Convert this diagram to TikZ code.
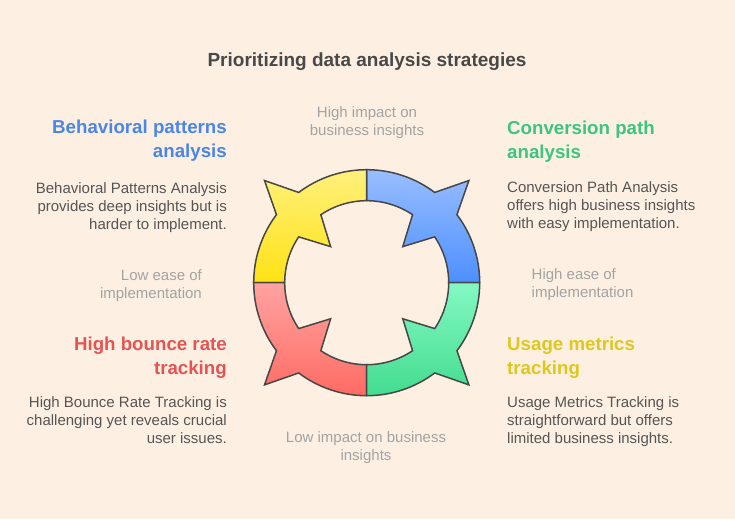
\documentclass[tikz,border=0pt]{standalone}
\usepackage{fontspec}
\setmainfont{Liberation Sans}

\definecolor{bgpaper}{HTML}{FDF0E3}
\definecolor{titlegray}{HTML}{484848}
\definecolor{descgray}{HTML}{555555}
\definecolor{axisgray}{HTML}{A3A3A3}
\definecolor{ringline}{HTML}{474747}
\definecolor{headblue}{HTML}{4A86E8}
\definecolor{headgreen}{HTML}{3CC480}
\definecolor{headred}{HTML}{E65353}
\definecolor{headyellow}{HTML}{DFC71C}
\definecolor{bluetop}{HTML}{98BEFF}
\definecolor{bluebot}{HTML}{4D8FFF}
\definecolor{yeltop}{HTML}{FFF07C}
\definecolor{yelbot}{HTML}{FFE214}
\definecolor{redtop}{HTML}{FFA3A0}
\definecolor{redbot}{HTML}{FF6B64}
\definecolor{grntop}{HTML}{84F8C4}
\definecolor{grnbot}{HTML}{42DC8E}

\begin{document}
\begin{tikzpicture}[x=1pt,y=-1pt,
  head/.style={font=\fontsize{18.7}{24}\selectfont\bfseries, inner sep=0pt},
  desc/.style={font=\fontsize{15}{18}\selectfont, text=descgray, inner sep=0pt},
  axislabel/.style={font=\fontsize{15}{18}\selectfont, text=axisgray, inner sep=0pt},
  petal/.style={draw=ringline, line width=1.5pt}]

\fill [bgpaper] (0,0) rectangle (735,519);
\useasboundingbox (0,0) rectangle (735,519);

\node [font=\fontsize{19}{22}\selectfont\bfseries, text=titlegray, inner sep=0pt, anchor=north] (title) at (367,53) {Prioritizing data analysis strategies};

% the ring
\begin{scope}[shift={(366.7,282.7)}, y=1pt]
\foreach \m/\tc/\bc in {45/bluetop/bluebot, 135/yeltop/yelbot, 225/redtop/redbot, 315/grntop/grnbot}
  \draw [petal, top color=\tc, bottom color=\bc]
    ({\m-45}:113pt) arc[start angle={\m-45}, end angle={\m-8}, radius=113pt]
    -- (\m:144.5pt) -- ({\m+8}:113pt)
    arc[start angle={\m+8}, end angle={\m+45}, radius=113pt]
    -- ({\m+45}:82pt)
    arc[start angle={\m+45}, end angle={\m+11}, radius=82pt]
    -- (\m:51pt) -- ({\m-11}:82pt)
    arc[start angle={\m-11}, end angle={\m-45}, radius=82pt]
    -- cycle;
\end{scope}

% axis labels
\node [axislabel, align=center, anchor=north] (highImpact) at (367,106) {High impact on\\business insights};
\node [axislabel, align=center, anchor=north] (lowImpact) at (366,431) {Low impact on business\\insights};
\node [axislabel, align=right, anchor=north east] (lowEase) at (202,269) {Low ease of\\implementation};
\node [axislabel, align=left, anchor=north west] (highEase) at (531.5,268.5) {High ease of\\implementation};

% quadrants
\node [head, text=headblue, align=right, anchor=north east] (bpHead) at (227,120) {Behavioral patterns\\analysis};
\node [desc, align=right, anchor=north east] (bpText) at (227,182) {Behavioral Patterns Analysis\\provides deep insights but is\\harder to implement.};

\node [head, text=headgreen, align=left, anchor=north west] (cpHead) at (507,120.5) {Conversion path\\analysis};
\node [desc, align=left, anchor=north west] (cpText) at (507,181.7) {Conversion Path Analysis\\offers high business insights\\with easy implementation.};

\node [head, text=headred, align=right, anchor=north east] (hbHead) at (227,336.7) {High bounce rate\\tracking};
\node [desc, align=right, anchor=north east] (hbText) at (227,396.7) {High Bounce Rate Tracking is\\challenging yet reveals crucial\\user issues.};

\node [head, text=headyellow, align=left, anchor=north west] (umHead) at (507,336.7) {Usage metrics\\tracking};
\node [desc, align=left, anchor=north west] (umText) at (507,396.7) {Usage Metrics Tracking is\\straightforward but offers\\limited business insights.};

\end{tikzpicture}
\end{document}
